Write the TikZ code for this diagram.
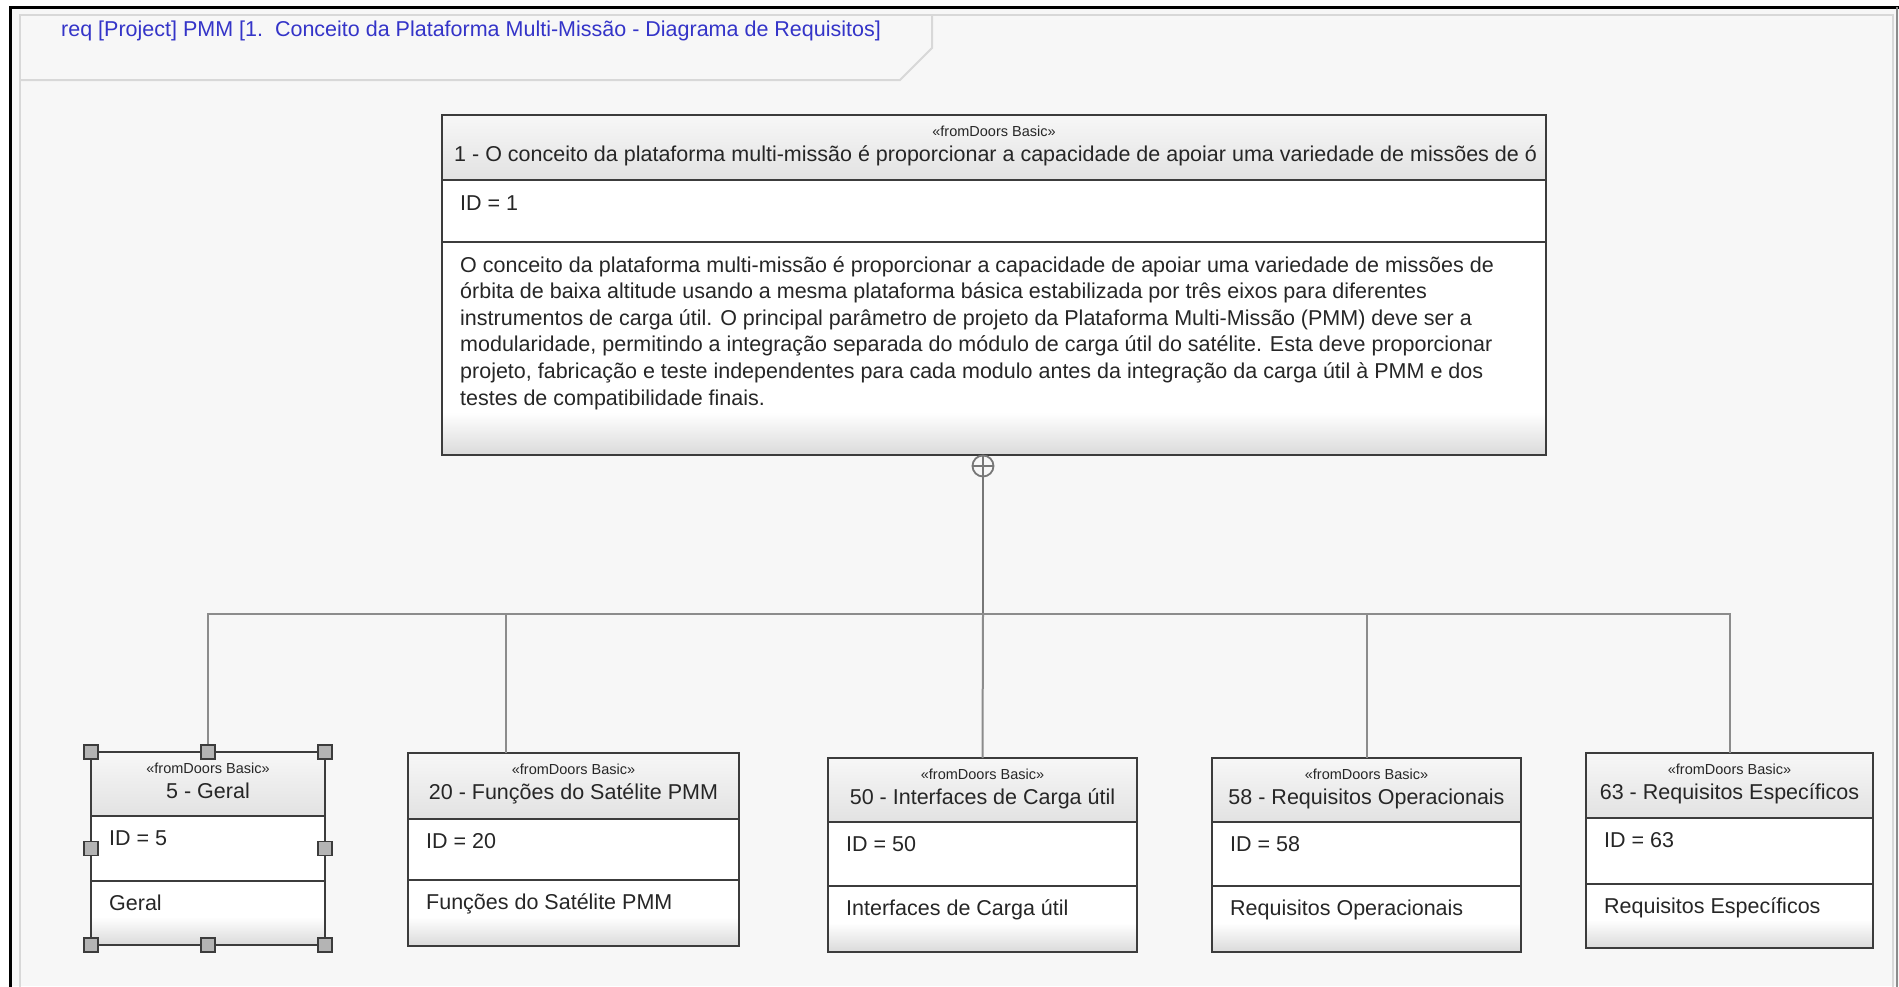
\documentclass[tikz,border=0pt]{standalone}
\usepackage{fontspec}
\setmainfont{Liberation Sans}
\definecolor{panel}{HTML}{F7F7F7}
\definecolor{pline}{HTML}{D8D8D8}
\definecolor{bline}{HTML}{3C3C3C}
\definecolor{hdrtop}{HTML}{F7F7F7}
\definecolor{hdrbot}{HTML}{E2E2E2}
\definecolor{bodybot}{HTML}{DADADA}
\definecolor{conn}{HTML}{8C8C8C}
\definecolor{trunkc}{HTML}{777777}
\definecolor{ttlblue}{HTML}{3434C8}
\definecolor{txtc}{HTML}{262626}
\definecolor{hdl}{HTML}{B4B4B4}
\pgfdeclareverticalshading{mainbody}{100bp}{color(0bp)=(bodybot); color(25bp)=(bodybot); color(35bp)=(white); color(100bp)=(white)}
\pgfdeclareverticalshading{childbody}{100bp}{color(0bp)=(bodybot); color(25bp)=(bodybot); color(47bp)=(white); color(100bp)=(white)}
\newcommand\ReqBox[9]{%
  \node[hdr, minimum width={(#3-#2)*1pt}, minimum height={(#5-#4)*1pt}] (#1h) at (#2,#4) {};
  \node[idc, minimum width={(#3-#2)*1pt}, minimum height={(#6-#5)*1pt}] (#1i) at (#2,#5) {};
  \node[bdy, shading=childbody, minimum width={(#3-#2)*1pt}, minimum height={(#7-#6)*1pt}] (#1b) at (#2,#6) {};
  \node[stereo] (#1s) at ({(#2+#3)/2},{#4+21}) {«fromDoors Basic»};
  \node[ttl] (#1t) at ({(#2+#3)/2},{#4+46}) {#8 - #9};
  \node[txt] (#1d) at ({#2+18},{#5+29}) {ID = #8};
  \node[txt] (#1x) at ({#2+18},{#6+29}) {#9};
}
\begin{document}
\begin{tikzpicture}[x=1pt,y=-1pt,
  comp/.style={draw=bline, line width=2.2pt, rectangle, inner sep=0pt, outer sep=0pt, anchor=north west},
  hdr/.style={comp, top color=hdrtop, bottom color=hdrbot},
  idc/.style={comp, fill=white},
  bdy/.style={comp, shade},
  stereo/.style={font=\fontsize{14.5}{17}\selectfont, text=txtc, inner sep=0pt, anchor=base},
  ttl/.style={font=\fontsize{21.5}{26.6}\selectfont, text=txtc, inner sep=0pt, anchor=base},
  txt/.style={ttl, anchor=base west},
  handle/.style={draw=bline, fill=hdl, line width=1.3pt, minimum size=14pt, inner sep=0pt, rectangle},
  cline/.style={draw=conn, line width=2pt},
  trunk/.style={draw=trunkc, line width=2.4pt}]
\useasboundingbox (0,0) rectangle (1899,986);
% background and frame
\fill[white] (0,0) rectangle (1899,986);
\fill[panel] (10,7) rectangle (1899,986);
\draw[pline, line width=2.5pt] (20,990) -- (20,15) -- (1893,15) -- (1893,990);
\draw[pline, line width=2pt] (20,80) -- (900,80) -- (932,48) -- (932,15);
\draw[black, line width=3pt] (10,990) -- (10,7) -- (1899,7);
\draw[conn, line width=2pt] (1897,7) -- (1897,990);
\node[font=\fontsize{21.5}{26.6}\selectfont, text=ttlblue, inner sep=0pt, anchor=base west] (title) at (61,36)
  {req [Project] PMM [1.\ \ Conceito da Plataforma Multi-Missão - Diagrama de Requisitos]};
% main requirement
\node[hdr, minimum width=1104pt, minimum height=65pt] (mh) at (442,115) {};
\node[idc, minimum width=1104pt, minimum height=62pt] (mi) at (442,180) {};
\node[bdy, shading=mainbody, minimum width=1104pt, minimum height=213pt] (mb) at (442,242) {};
\node[stereo] (ms) at (994,136) {«fromDoors Basic»};
\node[txt] (mt) at (454,161) {1 - O conceito da plataforma multi-missão é proporcionar a capacidade de apoiar uma variedade de missões de ó};
\node[txt] (md) at (460,210) {ID = 1};
\foreach \ln [count=\k from 0] in {%
  {O conceito da plataforma multi-missão é proporcionar a capacidade de apoiar uma variedade de missões de},
  {órbita de baixa altitude usando a mesma plataforma básica estabilizada por três eixos para diferentes},
  {instrumentos de carga útil. O principal parâmetro de projeto da Plataforma Multi-Missão (PMM) deve ser a},
  {modularidade, permitindo a integração separada do módulo de carga útil do satélite. Esta deve proporcionar},
  {projeto, fabricação e teste independentes para cada modulo antes da integração da carga útil à PMM e dos},
  {testes de compatibilidade finais.}}
  \node[txt] (ml\k) at (460,{272+26.6*\k}) {\ln};
% children
\ReqBox{c1}{91}{325}{752}{816}{881}{945}{5}{Geral}
\ReqBox{c2}{408}{739}{753}{819}{880}{946}{20}{Funções do Satélite PMM}
\ReqBox{c3}{828}{1137}{758}{822}{886}{952}{50}{Interfaces de Carga útil}
\ReqBox{c4}{1212}{1521}{758}{822}{886}{952}{58}{Requisitos Operacionais}
\ReqBox{c5}{1586}{1873}{753}{818}{884}{948}{63}{Requisitos Específicos}
% containment connector
\node[circle, draw=trunkc, line width=1.8pt, minimum size=21pt, inner sep=0pt, fill=panel] (cont) at (983,466) {};
\draw[trunkc, line width=1.6pt] (cont.north) -- (cont.south) (cont.west) -- (cont.east);
\coordinate (j) at (983,614);
\coordinate (a2) at (506,753);
\draw[trunk] (cont.south) -- (j);
\draw[cline] (j) -| (c1h.north);
\draw[cline] (j) -| (a2);
\draw[cline] (j) -- (c3h.north);
\draw[cline] (j) -| (c4h.north);
\draw[cline] (j) -| (c5h.north);
% selection handles
\foreach \p [count=\k] in {c1h.north west, c1h.north, c1h.north east, c1i.west, c1i.east, c1b.south west, c1b.south, c1b.south east}
  \node[handle] (hd\k) at (\p) {};
\end{tikzpicture}
\end{document}
